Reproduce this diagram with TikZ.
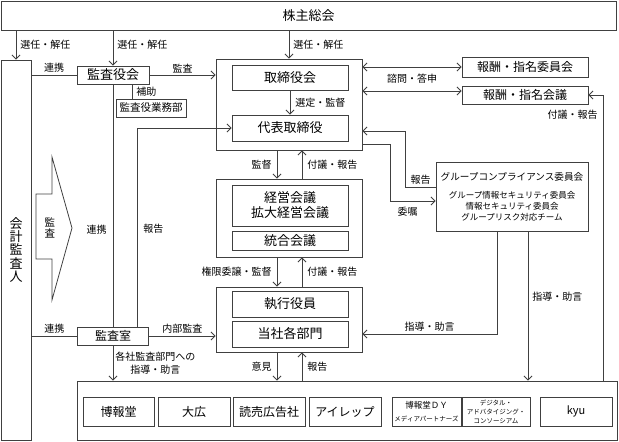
\documentclass[tikz,border=0pt]{standalone}
\usepackage{fontspec}
\setmainfont{Noto Sans CJK JP}
\usepackage{tikz}
\usetikzlibrary{arrows.meta}

\begin{document}
\begin{tikzpicture}[
  x=1pt, y=-1pt,
  >={Straight Barb[length=4pt,width=8pt]},
  box/.style={rectangle, draw=black!75, line width=0.9pt, inner sep=0pt, font=\fontsize{13}{15}\selectfont},
  grp/.style={rectangle, draw=black!75, line width=0.9pt, inner sep=0pt},
  lbl/.style={font=\fontsize{10}{13}\selectfont, inner sep=2pt},
  conn/.style={draw=black!75, line width=0.8pt},
  co/.style={box, minimum height=29pt, font=\fontsize{12}{14}\selectfont}
]
\useasboundingbox (0,0) rectangle (619,442);

\node[box, minimum width=615pt, minimum height=29pt] (soukai) at (308.5,15.5) {株主総会};
\node[box, minimum width=30pt, minimum height=380pt, align=center, font=\fontsize{13}{13.3}\selectfont] (auditor) at (16,250) {会\\計\\監\\査\\人};

\node[box, minimum width=72pt, minimum height=18pt] (kansayakukai) at (113,75) {監査役会};
\node[box, minimum width=70pt, minimum height=18pt, font=\fontsize{10.5}{12}\selectfont] (gyomubu) at (151,108) {監査役業務部};
\node[box, minimum width=71pt, minimum height=18pt, font=\fontsize{12}{14}\selectfont] (kansashitsu) at (113,336) {監査室};

% 監査の矢印
\draw[conn] (36,194) -- (52,194) -- (52,157) -- (72,228) -- (52,300) -- (52,259) -- (36,259) -- cycle;
\node[align=center, font=\fontsize{10.5}{11}\selectfont] (kansalbl) at (50,228) {監\\査};

% 取締役会
\node[grp, minimum width=146pt, minimum height=91pt] (boardgrp) at (289,104.5) {};
\node[box, minimum width=116pt, minimum height=25pt] (torishimari) at (290,77.5) {取締役会};
\node[box, minimum width=116pt, minimum height=26pt] (daihyo) at (290,128) {代表取締役};

% 経営会議
\node[grp, minimum width=146pt, minimum height=78pt] (mgmtgrp) at (289,218) {};
\node[box, minimum width=116pt, minimum height=41pt, align=center] (keiei) at (290,205.5) {経営会議\\拡大経営会議};
\node[box, minimum width=116pt, minimum height=19pt] (togo) at (290,240.5) {統合会議};

% 執行
\node[grp, minimum width=146pt, minimum height=65pt] (execgrp) at (289,319.5) {};
\node[box, minimum width=116pt, minimum height=26pt] (shikko) at (290,304) {執行役員};
\node[box, minimum width=116pt, minimum height=26pt] (kakubumon) at (290,334) {当社各部門};

% 右側
\node[box, minimum width=126pt, minimum height=20pt, font=\fontsize{12}{14}\selectfont] (iinkai) at (525,67) {報酬・指名委員会};
\node[box, minimum width=126pt, minimum height=18pt, font=\fontsize{12}{14}\selectfont] (kaigi) at (525,95) {報酬・指名会議};
\node[box, minimum width=152pt, minimum height=69pt, align=center, font=\fontsize{8.5}{11}\selectfont] (compliance) at (512,196.5)
  {{\fontsize{9.6}{12}\selectfont グループコンプライアンス委員会}\\[7pt]グループ情報セキュリティ委員会\\情報セキュリティ委員会\\グループリスク対応チーム};

% グループ各社
\node[grp, minimum width=540pt, minimum height=59pt] (groupcos) at (347,410.5) {};
\node[co, minimum width=71pt] (hakuhodo) at (118.5,411.5) {博報堂};
\node[co, minimum width=72pt] (daiko) at (194,411.5) {大広};
\node[co, minimum width=72pt] (yomiko) at (269,411.5) {読売広告社};
\node[co, minimum width=72pt] (irep) at (345,411.5) {アイレップ};
\node[co, minimum width=69pt, align=center, font=\fontsize{8.5}{13}\selectfont] (hdymp) at (426.5,411.5) {博報堂ＤＹ\\{\fontsize{6.5}{8}\selectfont メディアパートナーズ}};
\node[co, minimum width=68pt, align=center, font=\fontsize{6.5}{9}\selectfont] (dac) at (496,411.5) {デジタル・\\アドバタイジング・\\コンソーシアム};
\node[co, minimum width=72pt, font=\fontsize{11}{13}\selectfont] (kyu) at (576,411.5) {kyu};

% 株主総会から
\draw[conn,->] (auditor.north |- soukai.south) -- node[lbl, right=2pt] (l1) {選任・解任} (auditor.north);
\draw[conn,->] (kansayakukai.north |- soukai.south) -- node[lbl, right=2pt, pos=0.42] (l2) {選任・解任} (kansayakukai.north);
\draw[conn,->] (boardgrp.north |- soukai.south) -- node[lbl, right=2pt] (l3) {選任・解任} (boardgrp.north);

% 監査役会まわり
\draw[conn] (auditor.east |- kansayakukai.west) -- node[lbl, above] (l4) {連携} (kansayakukai.west);
\draw[conn,->] (kansayakukai.east) -- node[lbl, above] (l5) {監査} (kansayakukai.east -| boardgrp.west);
\draw[conn] ([xshift=19pt]kansayakukai.south) -- node[lbl, right=2pt] (l6) {補助} ([xshift=19pt]kansayakukai.south |- gyomubu.north);
\draw[conn] (kansayakukai.south) -- node[lbl, left=4pt, pos=0.6] (l7) {連携} (kansashitsu.north);
\draw[conn,->] ([xshift=24pt]kansashitsu.north) |- node[lbl, right=4pt, pos=0.246] (l8) {報告} (daihyo.west);

% 監査室まわり
\draw[conn] (auditor.east |- kansashitsu.west) -- node[lbl, above] (l9) {連携} (kansashitsu.west);
\draw[conn,->] (kansashitsu.east) -- node[lbl, above] (l10) {内部監査} (kansashitsu.east -| execgrp.west);
\draw[conn,->] (kansashitsu.south) -- node[lbl, right, align=center] (l11) {各社監査部門への\\指導・助言} (kansashitsu.south |- groupcos.north);

% 中央の縦の流れ
\draw[conn,->] (torishimari.south) -- node[lbl, right=3pt] (l12) {選定・監督} (daihyo.north);
\draw[conn,->] ([xshift=-12pt]boardgrp.south) -- node[lbl, left=3pt] (l13) {監督} ([xshift=-12pt]mgmtgrp.north);
\draw[conn,<-] ([xshift=13pt]boardgrp.south) -- node[lbl, right=3pt] (l14) {付議・報告} ([xshift=13pt]mgmtgrp.north);
\draw[conn,->] ([xshift=-12pt]mgmtgrp.south) -- node[lbl, left=3pt] (l15) {権限委譲・監督} ([xshift=-12pt]execgrp.north);
\draw[conn,<-] ([xshift=13pt]mgmtgrp.south) -- node[lbl, right=3pt] (l16) {付議・報告} ([xshift=13pt]execgrp.north);
\draw[conn,->] ([xshift=-12pt]execgrp.south) -- node[lbl, left=3pt] (l17) {意見} ([xshift=-70pt]groupcos.north);
\draw[conn,<-] ([xshift=13pt]execgrp.south) -- node[lbl, right=3pt] (l18) {報告} ([xshift=-45pt]groupcos.north);

% 右側の流れ
\draw[conn,<->] (boardgrp.east |- iinkai.west) -- (iinkai.west);
\draw[conn,<->] ([yshift=13.5pt]boardgrp.east) -- node[lbl, above=5pt] (l19) {諮問・答申} ([yshift=4pt]kaigi.west);
\draw[conn,->] ([xshift=256pt]groupcos.north) |- node[lbl, left=3pt, pos=0.465] (l20) {付議・報告} (kaigi.east);
\draw[conn,->] ([yshift=9.5pt]compliance.west) -- node[lbl, above] (l21) {報告} ++(-30,0) |- ([yshift=-26.5pt]boardgrp.east);
\draw[conn,->] ([yshift=-39.5pt]boardgrp.east) -- ++(28,0) |- node[lbl, below=4pt, pos=0.69] (l22) {委嘱} ([yshift=-4.5pt]compliance.west);
\draw[conn,->] ([xshift=-15pt]compliance.south) |- node[lbl, above, pos=0.75] (l23) {指導・助言} (execgrp.east |- kakubumon.east);
\draw[conn,->] ([xshift=16pt]compliance.south) -- node[lbl, right=2pt, pos=0.44] (l24) {指導・助言} ([xshift=181pt]groupcos.north);
\end{tikzpicture}
\end{document}
